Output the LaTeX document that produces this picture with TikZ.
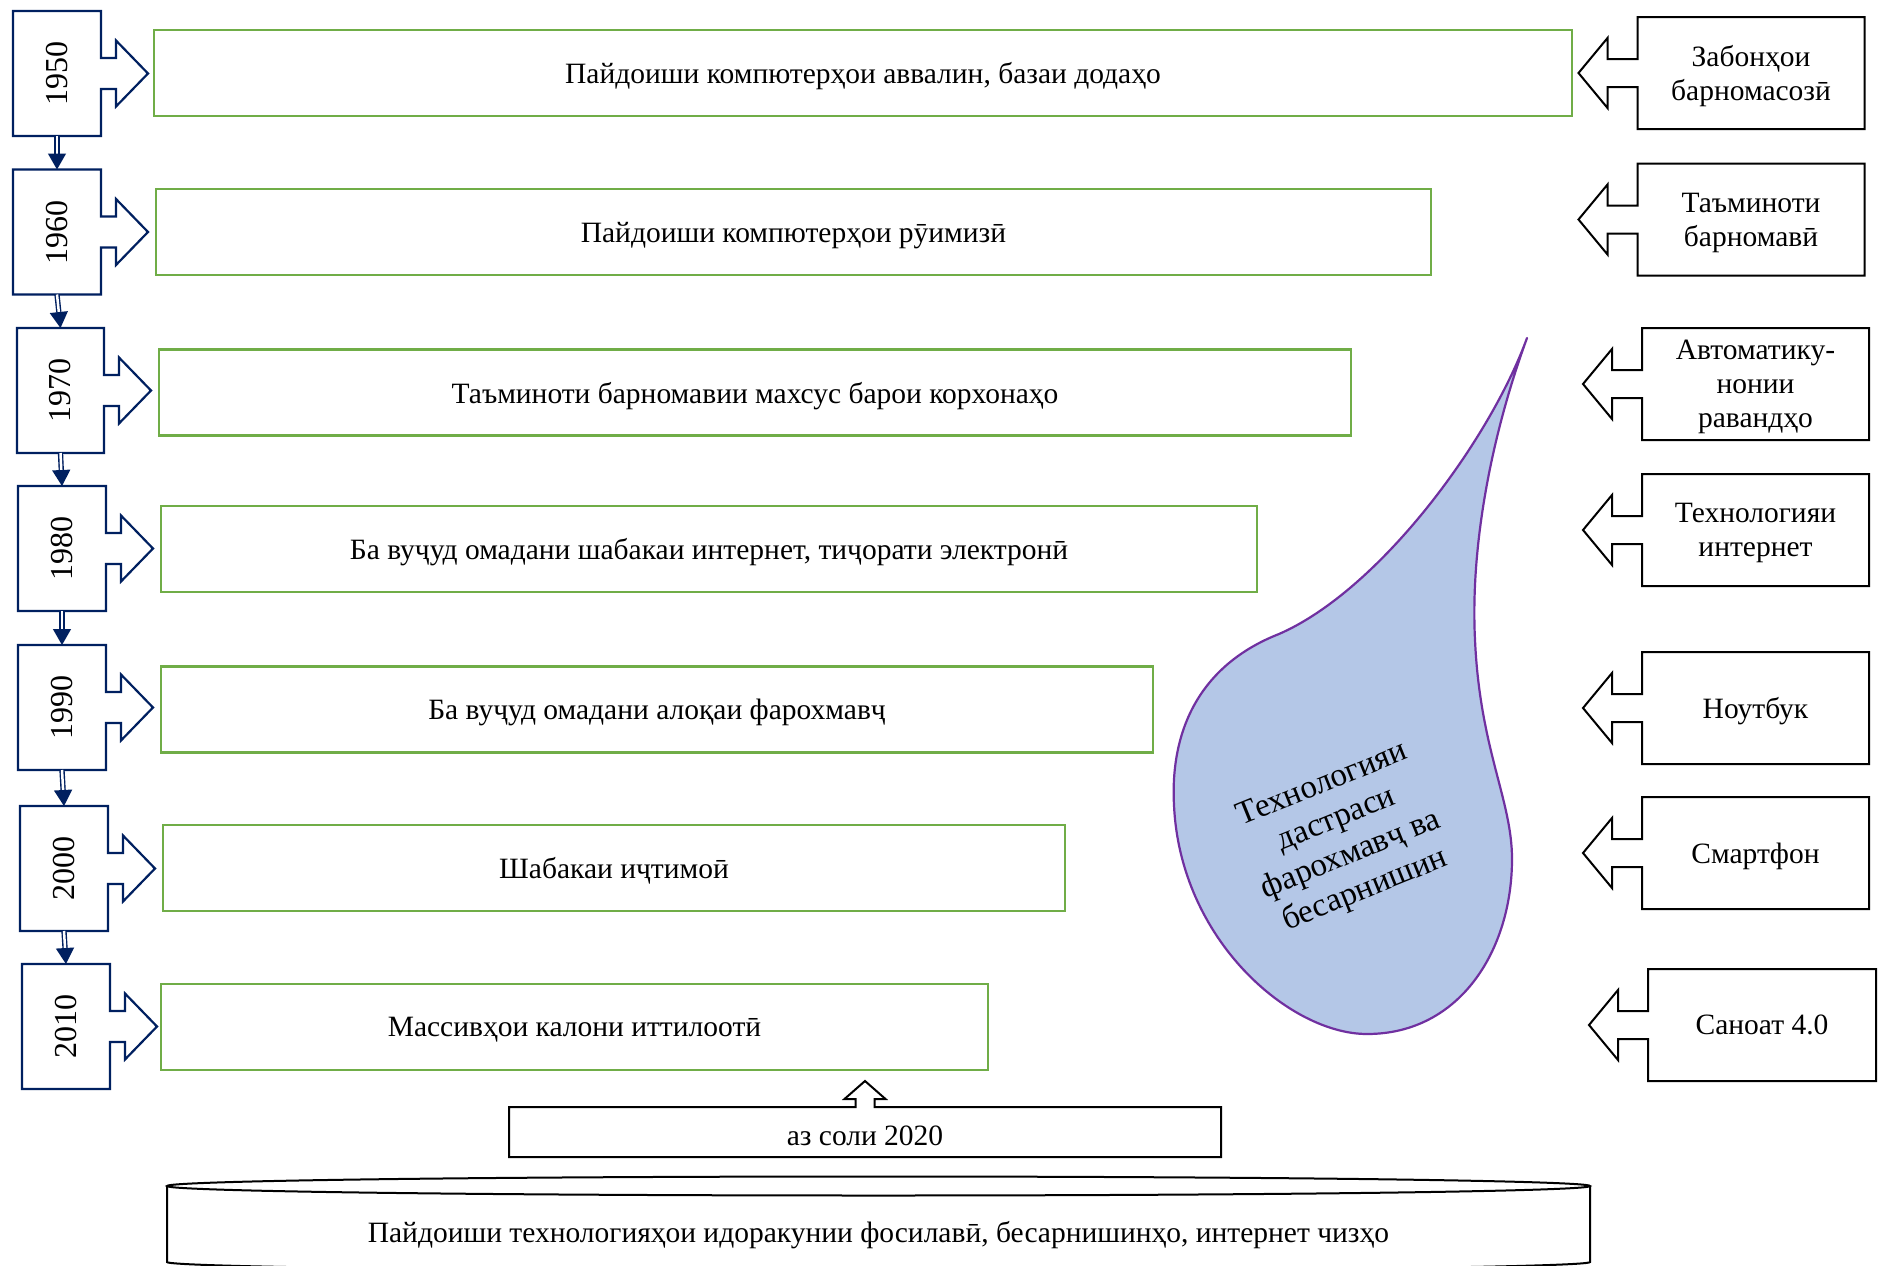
\documentclass[tikz,border=0pt]{standalone}
\usepackage{fontspec}
\usepackage{graphicx}
\setmainfont{Liberation Serif}
\usetikzlibrary{arrows.meta,calc}
\definecolor{navy}{HTML}{002060}
\definecolor{grn}{HTML}{70AD47}
\definecolor{purp}{HTML}{7030A0}
\definecolor{dropfill}{HTML}{B4C7E7}
\newcommand\yearout[1]{\path[yearline] (#1.north west) -- (#1.north east) -- ($(#1.east)+(0,-15.5)$) -- ++(15,0) -- ++(0,-17.5) -- ($(#1.east)+(47,0)$) -- ($(#1.east)+(15,33)$) -- ++(0,-17.5) -- ($(#1.east)+(0,15.5)$) -- (#1.south east) -- (#1.south west) -- cycle;}
\newcommand\rightout[1]{\path[blackline] (#1.north east) -- (#1.north west) -- ($(#1.west)+(0,-14)$) -- ++(-30,0) -- ++(0,-21) -- ($(#1.west)+(-59,0)$) -- ($(#1.west)+(-30,35)$) -- ++(0,-21) -- ($(#1.west)+(0,14)$) -- (#1.south west) -- (#1.south east) -- cycle;}
\begin{document}
\begin{tikzpicture}[x=1pt,y=-1pt,
  txt/.style={font=\fontsize{29.5}{34}\selectfont, text=black},
  yearbox/.style={rectangle, minimum width=88pt, minimum height=125pt, inner sep=0pt, outer sep=0pt, font=\fontsize{32}{36}\selectfont},
  yearline/.style={draw=navy, line width=2.2pt, line join=miter},
  greenbox/.style={txt, draw=grn, line width=2.2pt, rectangle, minimum height=86pt, inner sep=0pt, outer sep=0pt, text depth=0pt},
  rightbox/.style={txt, rectangle, minimum width=227pt, minimum height=112pt, inner sep=0pt, outer sep=0pt, align=center, text depth=0pt},
  blackline/.style={draw=black, line width=2pt, line join=miter},
  yearconn/.style={draw=navy, double=white, double distance=2.5pt, line width=1.4pt, -{Triangle[length=16pt,width=18pt]}},
]
\clip (0,0) rectangle (1883,1266);
\fill[white] (0,0) rectangle (1883,1266);

% year boxes
\node[yearbox] (y1950) at (57,73.5) {\rotatebox{90}{1950}};
\node[yearbox] (y1960) at (57,232) {\rotatebox{90}{1960}};
\node[yearbox, minimum width=87pt] (y1970) at (60.5,390.5) {\rotatebox{90}{1970}};
\node[yearbox] (y1980) at (62,548.5) {\rotatebox{90}{1980}};
\node[yearbox] (y1990) at (62,707.5) {\rotatebox{90}{1990}};
\node[yearbox] (y2000) at (64,868.5) {\rotatebox{90}{2000}};
\node[yearbox] (y2010) at (66,1026.5) {\rotatebox{90}{2010}};
\foreach \n in {y1950,y1960,y1970,y1980,y1990,y2000,y2010} {\yearout{\n}}

\draw[yearconn] (y1950.south) -- (y1960.north);
\draw[yearconn] (y1960.south) -- (y1970.north);
\draw[yearconn] (y1970.south) -- (y1980.north);
\draw[yearconn] (y1980.south) -- (y1990.north);
\draw[yearconn] (y1990.south) -- (y2000.north);
\draw[yearconn] (y2000.south) -- (y2010.north);

% green boxes
\node[greenbox, minimum width=1418pt] (g1) at (863,73) {Пайдоиши компютерҳои аввалин, базаи додаҳо};
\node[greenbox, minimum width=1275pt] (g2) at (793.5,232) {Пайдоиши компютерҳои рӯимизӣ};
\node[greenbox, minimum width=1192pt] (g3) at (755,392.5) {Таъминоти барномавии махсус барои корхонаҳо};
\node[greenbox, minimum width=1096pt] (g4) at (709,549) {Ба вуҷуд омадани шабакаи интернет, тиҷорати электронӣ};
\node[greenbox, minimum width=992pt] (g5) at (657,709.5) {Ба вуҷуд омадани алоқаи фарохмавҷ};
\node[greenbox, minimum width=902pt] (g6) at (614,868) {Шабакаи иҷтимоӣ};
\node[greenbox, minimum width=827pt] (g7) at (574.5,1027) {Массивҳои калони иттилоотӣ};

% right boxes
\node[rightbox] (r1) at (1751,73) {Забонҳои\\барномасозӣ};
\node[rightbox] (r2) at (1751,219.5) {Таъминоти\\барномавӣ};
\node[rightbox] (r3) at (1755.5,384) {Автоматику-\\нонии\\равандҳо};
\node[rightbox] (r4) at (1755.5,530) {Технологияи\\интернет};
\node[rightbox] (r5) at (1755.5,708) {Ноутбук};
\node[rightbox] (r6) at (1755.5,853) {Смартфон};
\node[rightbox, minimum width=228pt] (r7) at (1762,1025) {Саноат 4.0};
\foreach \n in {r1,r2,r3,r4,r5,r6,r7} {\rightout{\n}}

% drop
\path[draw=purp, fill=dropfill, line width=2.2pt, line join=round] (1527,338) .. controls (1490,440) and (1380,590) .. (1279,634) .. controls (1200,665) and (1170,730) .. (1174,805) .. controls (1180,940) and (1290,1034) .. (1367,1034) .. controls (1460,1034) and (1512,950) .. (1512,859) .. controls (1512,800) and (1480,750) .. (1475,640) .. controls (1470,540) and (1494,428) .. (1527,338) -- cycle;
\node[rotate=22, align=center, font=\fontsize{33}{38}\selectfont] (droptext) at (1344,838) {Технологияи\\дастраси\\фарохмавҷ ва\\бесарнишин};

% 2020 box
\node[txt, rectangle, minimum width=712pt, minimum height=50pt, inner sep=0pt, outer sep=0pt, text depth=0pt, text height=27pt] (b2020) at (865,1132) {аз соли 2020};
\path[blackline] (b2020.north west) -- ($(b2020.north)+(-9.5,0)$) -- ++(0,-8) -- ++(-11,0) -- ($(b2020.north)+(0,-26)$) -- ($(b2020.north)+(20.5,-8)$) -- ++(-11,0) -- ++(0,8) -- (b2020.north east) -- (b2020.south east) -- (b2020.south west) -- cycle;

% cylinder
\path[blackline] (167,1186) -- (167,1262) arc[start angle=180, end angle=0, x radius=711.5, y radius=9] -- (1590,1186);
\draw[black, line width=2pt] (878.5,1186) ellipse [x radius=711.5, y radius=9.5];
\node[txt, text depth=0pt] (cyl) at (878.5,1232) {Пайдоиши технологияҳои идоракунии фосилавӣ, бесарнишинҳо, интернет чизҳо};
\end{tikzpicture}
\end{document}
